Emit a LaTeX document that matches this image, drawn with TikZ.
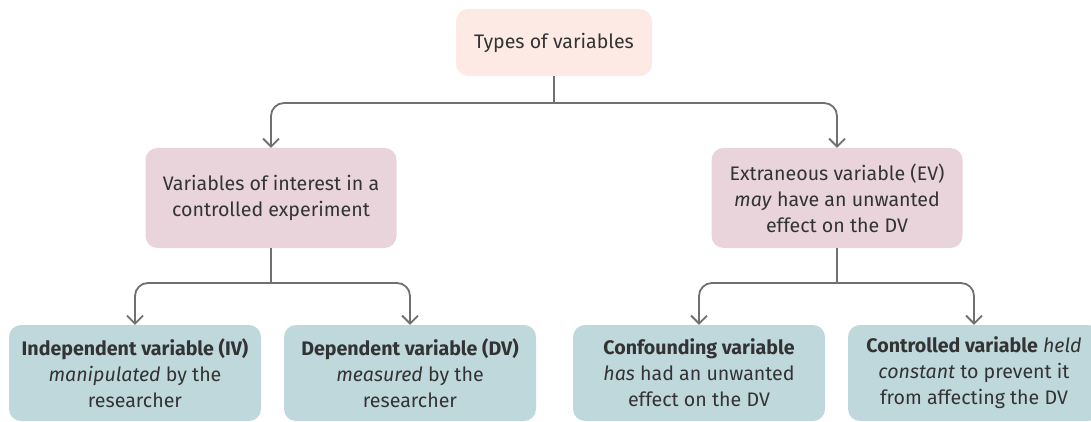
\documentclass[tikz,border=0pt]{standalone}
\usepackage{fontspec}
\setmainfont{Fira Sans}
\usetikzlibrary{arrows.meta}
\definecolor{topfill}{HTML}{FDEAE4}
\definecolor{midfill}{HTML}{E8D4DA}
\definecolor{leaffill}{HTML}{BFD8DC}
\definecolor{linkgray}{HTML}{707070}
\definecolor{ink}{HTML}{333333}
\begin{document}
\begin{tikzpicture}[x=1pt,y=-1pt,
  box/.style={rectangle, rounded corners=12pt, align=center, text=ink,
    font=\fontsize{19.6}{26}\selectfont, inner sep=0pt},
  topbox/.style={box, fill=topfill, minimum width=196pt, minimum height=67pt},
  midbox/.style={box, fill=midfill, minimum width=251pt, minimum height=100pt},
  leafbox/.style={box, fill=leaffill, minimum width=252pt, minimum height=96pt},
  link/.style={draw=linkgray, line width=1.8pt},
  arrowlink/.style={link, rounded corners=13pt,
    -{Straight Barb[length=8pt,width=16pt,line width=1.8pt]}}]

\useasboundingbox (0,0) rectangle (1091,422);
\clip (0,0) rectangle (1091,422);

% boxes
\node[topbox] (types) at (554,42.5) {Types of variables};

\node[midbox] (interest) at (271,198) {Variables of interest in a\\controlled experiment};
\node[midbox] (extra) at (837,198) {Extraneous variable (EV)\\\textit{may} have an unwanted\\effect on the DV};

\node[leafbox] (iv) at (135,373) {\textbf{Independent variable (IV)}\\\textit{manipulated} by the\\researcher};
\node[leafbox] (dv) at (410,373) {\textbf{Dependent variable (DV)}\\\textit{measured} by the\\researcher};
\node[leafbox] (conf) at (699,373) {\textbf{Confounding variable}\\\textit{has} had an unwanted\\effect on the DV};
\node[leafbox] (ctrl) at (974,373) {\textbf{Controlled variable} \textit{held}\\\textit{constant} to prevent it\\from affecting the DV};

% junction points
\coordinate (j0) at (types.south |- 0,103);
\coordinate (j1) at (interest.south |- 0,283);
\coordinate (j2) at (extra.south |- 0,283);

% connectors
\draw[link] (types.south) -- (j0);
\draw[arrowlink] (j0) -| (interest.north);
\draw[arrowlink] (j0) -| (extra.north);

\draw[link] (interest.south) -- (j1);
\draw[arrowlink] (j1) -| (iv.north);
\draw[arrowlink] (j1) -| (dv.north);

\draw[link] (extra.south) -- (j2);
\draw[arrowlink] (j2) -| (conf.north);
\draw[arrowlink] (j2) -| (ctrl.north);
\end{tikzpicture}
\end{document}
